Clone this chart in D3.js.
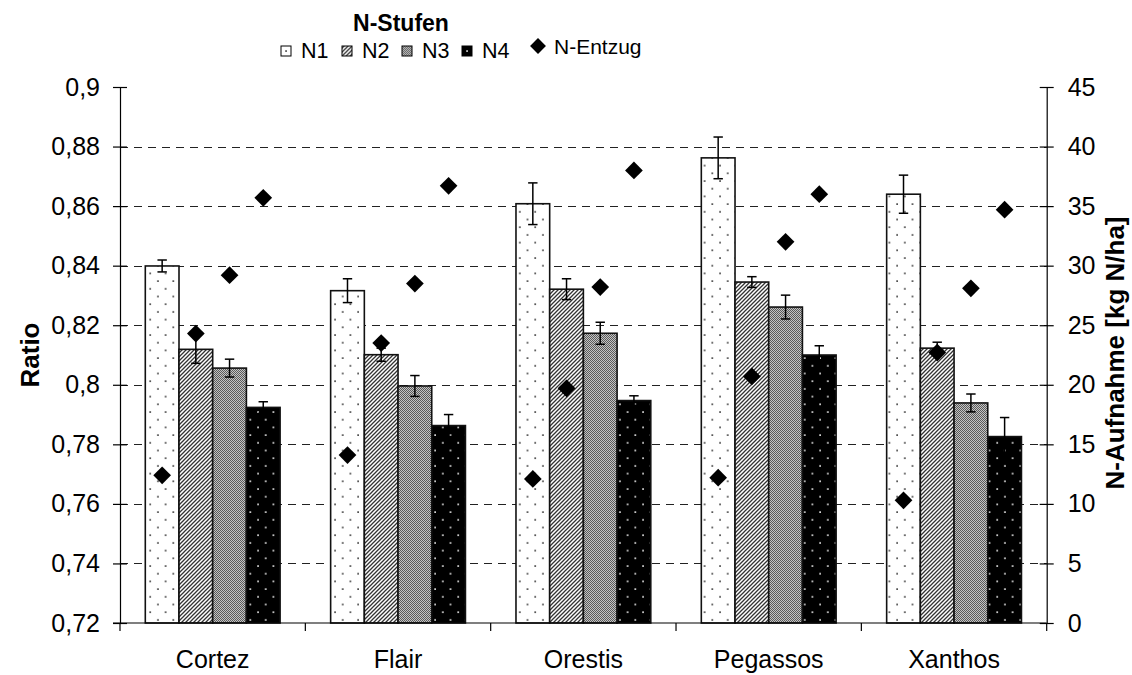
<!DOCTYPE html>
<html>
<head>
<meta charset="utf-8">
<script src="https://cdn.jsdelivr.net/npm/d3@7"></script>
<style>
  html, body { margin: 0; padding: 0; background: #fff; }
  svg { display: block; font-family: "Liberation Sans", Arial, sans-serif; }
</style>
</head>
<body>
<svg id="chart" width="1132" height="675"></svg>
<script>
// Varieties and nitrogen levels
const categories = ["Cortez", "Flair", "Orestis", "Pegassos", "Xanthos"];
const levels = ["N1", "N2", "N3", "N4"];

// Ratio per level (one value per variety)
const ratioN1 = [0.8399, 0.8316, 0.8608, 0.8762, 0.8640];
const ratioN2 = [0.8119, 0.8101, 0.8321, 0.8345, 0.8123];
const ratioN3 = [0.8056, 0.7996, 0.8173, 0.8261, 0.7939];
const ratioN4 = [0.7924, 0.7863, 0.7947, 0.8100, 0.7826];

// Standard errors of the ratio
const errN1 = [0.0020, 0.0040, 0.0070, 0.0070, 0.0064];
const errN2 = [0.0047, 0.0022, 0.0035, 0.0018, 0.0020];
const errN3 = [0.0030, 0.0035, 0.0037, 0.0040, 0.0030];
const errN4 = [0.0019, 0.0037, 0.0016, 0.0031, 0.0064];

// N uptake (kg N/ha), right axis
const uptakeN1 = [12.4, 14.1, 12.1, 12.2, 10.3];
const uptakeN2 = [24.3, 23.5, 19.7, 20.7, 22.7];
const uptakeN3 = [29.2, 28.5, 28.2, 32.0, 28.1];
const uptakeN4 = [35.7, 36.7, 38.0, 36.0, 34.7];

// Axis ticks
const leftTicks = [0.72, 0.74, 0.76, 0.78, 0.80, 0.82, 0.84, 0.86, 0.88, 0.90];
const rightTicks = [0, 5, 10, 15, 20, 25, 30, 35, 40, 45];
const gridTicks = [0.74, 0.76, 0.78, 0.80, 0.82, 0.84, 0.86, 0.88];

const ratios = [ratioN1, ratioN2, ratioN3, ratioN4];
const errs = [errN1, errN2, errN3, errN4];
const uptakes = [uptakeN1, uptakeN2, uptakeN3, uptakeN4];

const rows = [];
categories.forEach((c, i) => {
  levels.forEach((l, j) => {
    rows.push({ cat: c, level: l, li: j, ratio: ratios[j][i], err: errs[j][i], uptake: uptakes[j][i] });
  });
});

const svg = d3.select("#chart");
const plotLeft = 120, plotRight = 1046.7, plotTop = 87, plotBottom = 623;

const x0 = d3.scaleBand().domain(categories).range([plotLeft, plotRight]).paddingInner(0).paddingOuter(0);
const x1 = d3.scaleBand().domain(levels).range([25.3, 25.3 + 134.8]).padding(0);
const y = d3.scaleLinear().domain([0.72, 0.9]).range([plotBottom, plotTop]);
const yR = d3.scaleLinear().domain([0, 45]).range([plotBottom, plotTop]);

const locale = d3.formatLocale({ decimal: ",", thousands: ".", grouping: [3], currency: ["", " €"] });
const fmt = locale.format(".2~f");

// Fill patterns
const defs = svg.append("defs");
const dotSize = 15.4;
function dotPattern(id, bg, dot) {
  const p = defs.append("pattern").attr("id", id).attr("patternUnits", "userSpaceOnUse")
    .attr("width", dotSize).attr("height", dotSize);
  p.append("rect").attr("width", dotSize).attr("height", dotSize).attr("fill", bg);
  p.append("rect").attr("x", 3.1).attr("y", 3.1).attr("width", 1.7).attr("height", 1.7).attr("fill", dot);
  p.append("rect").attr("x", 10.8).attr("y", 10.8).attr("width", 1.7).attr("height", 1.7).attr("fill", dot);
}
dotPattern("pN1", "#fff", "#4a4a4a");
dotPattern("pN4", "#000", "#d8d8d8");

const pN2 = defs.append("pattern").attr("id", "pN2").attr("patternUnits", "userSpaceOnUse")
  .attr("width", 4).attr("height", 4);
pN2.append("rect").attr("width", 4).attr("height", 4).attr("fill", "#fff");
pN2.append("path").attr("d", "M-1,1 L1,-1 M0,4 L4,0 M3,5 L5,3")
  .attr("stroke", "#333").attr("stroke-width", 1.3);

const pN3 = defs.append("pattern").attr("id", "pN3").attr("patternUnits", "userSpaceOnUse")
  .attr("width", 2).attr("height", 2);
pN3.append("rect").attr("width", 2).attr("height", 2).attr("fill", "#c4c4c4");
pN3.append("rect").attr("x", 0).attr("y", 0).attr("width", 1).attr("height", 1).attr("fill", "#5a5a5a");
pN3.append("rect").attr("x", 1).attr("y", 1).attr("width", 1).attr("height", 1).attr("fill", "#5a5a5a");

const fills = { N1: "url(#pN1)", N2: "url(#pN2)", N3: "url(#pN3)", N4: "url(#pN4)" };

// Horizontal dashed gridlines
svg.append("g").selectAll("line").data(gridTicks).join("line")
  .attr("x1", plotLeft).attr("x2", plotRight)
  .attr("y1", d => Math.round(y(d)) + 0.5).attr("y2", d => Math.round(y(d)) + 0.5)
  .attr("stroke", "#222").attr("stroke-width", 1).attr("stroke-dasharray", "8,6");

// Bars
svg.append("g").selectAll("rect").data(rows).join("rect")
  .attr("x", d => x0(d.cat) + x1(d.level))
  .attr("y", d => y(d.ratio))
  .attr("width", x1.bandwidth())
  .attr("height", d => plotBottom - y(d.ratio))
  .attr("fill", d => fills[d.level])
  .attr("stroke", "#111").attr("stroke-width", 1.6);

// Error bars
const eb = svg.append("g").attr("stroke", "#000").attr("stroke-width", 1.5);
const cx = d => x0(d.cat) + x1(d.level) + x1.bandwidth() / 2;
eb.selectAll("line.v").data(rows).join("line").attr("class", "v")
  .attr("x1", cx).attr("x2", cx)
  .attr("y1", d => y(d.ratio + d.err)).attr("y2", d => y(d.ratio - d.err));
eb.selectAll("line.t").data(rows).join("line").attr("class", "t")
  .attr("x1", d => cx(d) - 4.7).attr("x2", d => cx(d) + 4.7)
  .attr("y1", d => y(d.ratio + d.err)).attr("y2", d => y(d.ratio + d.err));
eb.selectAll("line.b").data(rows).join("line").attr("class", "b")
  .attr("x1", d => cx(d) - 4.7).attr("x2", d => cx(d) + 4.7)
  .attr("y1", d => y(d.ratio - d.err)).attr("y2", d => y(d.ratio - d.err));

// N uptake diamonds
const diamond = d3.symbol().type(d3.symbolDiamond2).size(200);
svg.append("g").selectAll("path").data(rows).join("path")
  .attr("d", diamond)
  .attr("transform", d => `translate(${cx(d)},${yR(d.uptake)})`)
  .attr("fill", "#000");

// Left axis
const axL = svg.append("g").attr("transform", `translate(${plotLeft},0)`)
  .call(d3.axisLeft(y).tickValues(leftTicks).tickFormat(fmt).tickSize(7).tickSizeOuter(0).tickPadding(13));
axL.selectAll(".tick line").attr("x1", 7).attr("stroke", "#000").attr("stroke-width", 1.2);
axL.select(".domain").attr("stroke", "#000").attr("stroke-width", 1.2);
axL.selectAll("text").attr("font-size", 25).attr("fill", "#000").attr("font-family", "Liberation Sans, Arial, sans-serif");

// Right axis
const axR = svg.append("g").attr("transform", `translate(${plotRight},0)`)
  .call(d3.axisRight(yR).tickValues(rightTicks).tickSize(7).tickSizeOuter(0).tickPadding(14));
axR.selectAll(".tick line").attr("x1", -7).attr("stroke", "#000").attr("stroke-width", 1.2);
axR.select(".domain").attr("stroke", "#000").attr("stroke-width", 1.2);
axR.selectAll("text").attr("font-size", 25).attr("fill", "#000").attr("font-family", "Liberation Sans, Arial, sans-serif");

// Bottom axis with ticks at category boundaries
const axB = svg.append("g").attr("transform", `translate(0,${plotBottom})`)
  .call(d3.axisBottom(x0).tickSize(0).tickPadding(27));
axB.select(".domain").remove();
axB.selectAll("text").attr("font-size", 25).attr("fill", "#000").attr("font-family", "Liberation Sans, Arial, sans-serif");
axB.append("line").attr("x1", plotLeft - 7).attr("x2", plotRight).attr("y1", 0).attr("y2", 0)
  .attr("stroke", "#000").attr("stroke-width", 1.2);
const bounds = categories.map(c => x0(c)).concat([plotRight]);
axB.selectAll("line.bt").data(bounds).join("line").attr("class", "bt")
  .attr("x1", d => d).attr("x2", d => d).attr("y1", 0).attr("y2", 8)
  .attr("stroke", "#000").attr("stroke-width", 1.2);

// Axis titles
svg.append("text").attr("transform", `translate(39,${(plotTop + plotBottom) / 2}) rotate(-90)`)
  .attr("text-anchor", "middle").attr("font-size", 26).attr("font-weight", "bold").text("Ratio");
svg.append("text").attr("transform", `translate(1124,353) rotate(-90)`)
  .attr("text-anchor", "middle").attr("font-size", 26).attr("font-weight", "bold").text("N-Aufnahme [kg N/ha]");

// Legend: nitrogen levels
const lg = svg.append("g");
lg.append("text").attr("x", 401).attr("y", 31).attr("text-anchor", "middle")
  .attr("font-size", 23).attr("font-weight", "bold").text("N-Stufen");
const legX = [281, 342, 402, 462];
levels.forEach((l, i) => {
  // swatch group offset so a single pattern dot sits near the centre
  lg.append("g").attr("transform", `translate(${legX[i] + 1.1},${47.1})`)
    .append("rect").attr("x", -1.1).attr("y", -1.1).attr("width", 10).attr("height", 10)
    .attr("fill", fills[l]).attr("stroke", "#000").attr("stroke-width", 1);
  lg.append("text").attr("x", legX[i] + 20).attr("y", 57.5).attr("font-size", 21.5).text(l);
});

// Legend: N uptake
lg.append("path").attr("d", d3.symbol().type(d3.symbolDiamond2).size(160))
  .attr("transform", "translate(538,46)").attr("fill", "#000");
lg.append("text").attr("x", 554).attr("y", 54).attr("font-size", 21).text("N-Entzug");
</script>
</body>
</html>
